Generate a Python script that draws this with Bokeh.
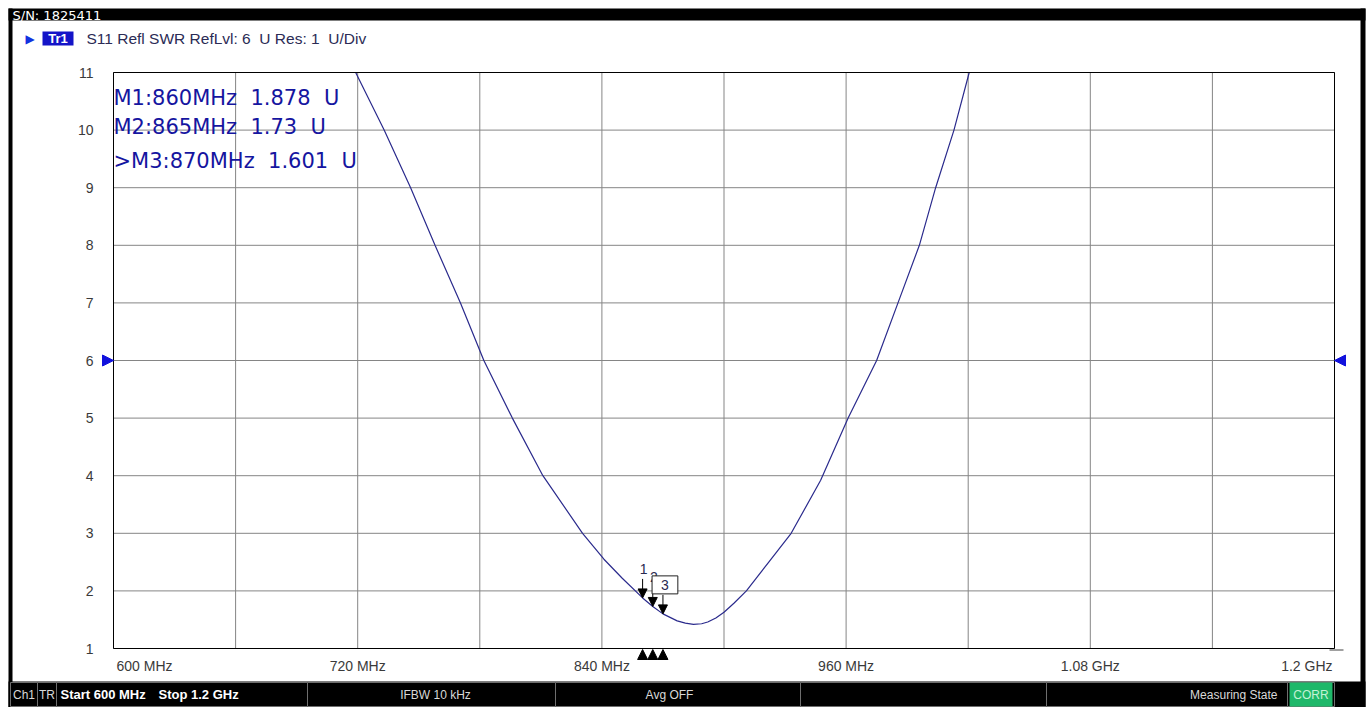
from bokeh.plotting import figure
from bokeh.models import (Range1d, Label, LabelSet, ColumnDataSource,
                          Arrow, NormalHead, BoxAnnotation)
from bokeh.core.properties import value
from bokeh.embed import file_html
from bokeh.resources import INLINE

# ---------------- data ----------------
serial_text = "S/N: 1825411"
trace_name = "Tr1"
trace_info = "S11 Refl SWR RefLvl: 6\u00a0\u00a0U Res: 1\u00a0\u00a0U/Div"
ref_level = 6

freq_mhz = [719, 733, 746, 758, 770.5, 782, 796, 811, 830.5, 841, 850, 860, 865, 870,
            877, 881, 885, 889, 892, 896, 900, 905, 911, 922, 933, 947.5, 961, 975,
            985.5, 996, 1004, 1013, 1020.5]
swr = [11, 10, 9, 8, 7, 6, 5, 4, 3, 2.55, 2.22, 1.878, 1.73, 1.601,
       1.48, 1.44, 1.42, 1.43, 1.46, 1.53, 1.63, 1.79, 2.0, 2.5, 3.0, 3.92, 5, 6,
       7, 8, 9, 10, 11]

marker_ids = [1, 2, 3]
marker_freq_mhz = [860, 865, 870]
marker_swr = [1.878, 1.73, 1.601]
marker_value_text = ["1.878", "1.73", "1.601"]
active_marker = 3

x_start_mhz, x_stop_mhz, x_div_mhz = 600, 1200, 60
y_min, y_max = 1, 11
x_tick_values = [600, 720, 840, 960, 1080, 1200]
x_tick_labels = ["600 MHz", "720 MHz", "840 MHz", "960 MHz", "1.08 GHz", "1.2 GHz"]
y_tick_values = [1, 2, 3, 4, 5, 6, 7, 8, 9, 10, 11]
y_tick_labels = ["1", "2", "3", "4", "5", "6", "7", "8", "9", "10", "11"]

status_texts = ["Ch1", "TR", "Start 600 MHz", "Stop 1.2 GHz", "IFBW 10 kHz",
                "Avg OFF", "Measuring State", "CORR"]

# ---------------- layout (pixels) ----------------
W, H = 1369, 707
PL, PR, PT, PB = 113, 1334, 72, 648          # plot area inside the canvas
px_x = (PR - PL) / (x_stop_mhz - x_start_mhz)
px_y = (PB - PT) / (y_max - y_min)

x_range = Range1d(x_start_mhz - PL / px_x, x_start_mhz + (W - PL) / px_x)
y_range = Range1d(y_max - (H - PT) / px_y, y_max + PT / px_y)

p = figure(width=W, height=H, x_range=x_range, y_range=y_range,
           output_backend="svg", toolbar_location=None,
           x_axis_location=None, y_axis_location=None, min_border=0)
p.background_fill_color = "white"
p.border_fill_color = "white"
p.outline_line_color = None
p.grid.visible = False

TXT = "#3a3a3a"

# grid lines (every division)
grid_x = list(range(x_start_mhz, x_stop_mhz + 1, x_div_mhz))
p.segment(x0=grid_x, y0=[y_min] * len(grid_x), x1=grid_x, y1=[y_max] * len(grid_x),
          line_color="#858585", line_width=1)
p.segment(x0=[x_start_mhz] * len(y_tick_values), y0=y_tick_values,
          x1=[x_stop_mhz] * len(y_tick_values), y1=y_tick_values,
          line_color="#858585", line_width=1)

# plot area outline
p.add_layout(BoxAnnotation(left=x_start_mhz, right=x_stop_mhz, bottom=y_min, top=y_max,
                           fill_alpha=0, line_color="black", line_alpha=1, line_width=1))

# y tick labels
p.text(x=[x_start_mhz] * len(y_tick_values), y=y_tick_values, text=y_tick_labels,
       x_offset=-20, text_align="right", text_baseline="middle",
       text_font=value("Liberation Sans"), text_font_size="14px", text_color=TXT)
# x tick labels: first left aligned, last right aligned, others centred
p.text(x=x_tick_values[:1], y=[y_min], text=x_tick_labels[:1], x_offset=3, y_offset=9,
       text_align="left", text_baseline="top",
       text_font=value("Liberation Sans"), text_font_size="14px", text_color=TXT)
p.text(x=x_tick_values[1:-1], y=[y_min] * (len(x_tick_values) - 2), text=x_tick_labels[1:-1],
       y_offset=9, text_align="center", text_baseline="top",
       text_font=value("Liberation Sans"), text_font_size="14px", text_color=TXT)
p.text(x=x_tick_values[-1:], y=[y_min], text=x_tick_labels[-1:], x_offset=-2, y_offset=9,
       text_align="right", text_baseline="top",
       text_font=value("Liberation Sans"), text_font_size="14px", text_color=TXT)

# trace
p.line(freq_mhz, swr, line_color="#2a2a8c", line_width=1.2)

# marker arrows on the trace
stem = 19 / px_y
msrc = ColumnDataSource(dict(x=marker_freq_mhz, y=marker_swr,
                             ys=[v + stem for v in marker_swr]))
p.add_layout(Arrow(x_start="x", y_start="ys", x_end="x", y_end="y", source=msrc,
                   line_color="black", line_width=1,
                   end=NormalHead(size=9, fill_color="black", line_color="black")))

# marker numbers
inactive = [i for i, m in enumerate(marker_ids) if m != active_marker]
lsrc = ColumnDataSource(dict(x=[marker_freq_mhz[i] for i in inactive],
                             y=[marker_swr[i] for i in inactive],
                             t=[str(marker_ids[i]) for i in inactive]))
p.add_layout(LabelSet(x="x", y="y", text="t", source=lsrc, x_offset=1, y_offset=29,
                      text_align="center", text_baseline="middle",
                      text_font=value("Liberation Sans"), text_font_size="14px",
                      text_color="#2a2a50"))
ai = marker_ids.index(active_marker)
p.add_layout(Label(x=marker_freq_mhz[ai], y=marker_swr[ai], text=str(active_marker),
                   x_offset=2, y_offset=29, text_align="center", text_baseline="middle",
                   text_font="Liberation Sans", text_font_size="14px", text_color="#2a2a50",
                   border_line_color="#202020", border_line_width=1,
                   background_fill_color="white", background_fill_alpha=1.0,
                   padding=dict(x=9, y=4)))

# marker positions on the x axis
bsrc = ColumnDataSource(dict(x=marker_freq_mhz,
                             y0=[y_min - 11 / px_y] * len(marker_freq_mhz),
                             y1=[y_min - 1 / px_y] * len(marker_freq_mhz)))
p.add_layout(Arrow(x_start="x", y_start="y0", x_end="x", y_end="y1", source=bsrc,
                   line_color=None,
                   end=NormalHead(size=10, fill_color="black", line_color="black")))

# reference level pointers
p.add_layout(Arrow(x_start=x_start_mhz - 12 / px_x, y_start=ref_level, x_end=x_start_mhz,
                   y_end=ref_level, line_color=None,
                   end=NormalHead(size=11, fill_color="#1111dd", line_color="#1111dd")))
p.add_layout(Arrow(x_start=x_stop_mhz + 13 / px_x, y_start=ref_level, x_end=x_stop_mhz,
                   y_end=ref_level, line_color=None,
                   end=NormalHead(size=11, fill_color="#1111dd", line_color="#1111dd")))

# marker readout
readout_baselines = [97, 126, 160]
for i, (m, f, vt) in enumerate(zip(marker_ids, marker_freq_mhz, marker_value_text)):
    prefix = ">" if m == active_marker else ""
    txt = f"{prefix}M{m}:{f}MHz\u00a0\u00a0{vt}\u00a0\u00a0U"
    p.add_layout(Label(x=PL, y=readout_baselines[i], x_units="canvas", y_units="canvas",
                       text=txt, text_align="left", text_baseline="alphabetic",
                       text_font="DejaVu Sans", text_font_size="21px", text_color="#1515a0"))


# ---------------- instrument frame decorations (canvas units) ----------------
def cbox(left, right, top, bottom, fill, line=None, lw=1):
    p.add_layout(BoxAnnotation(left=left, right=right, top=top, bottom=bottom,
                               left_units="canvas", right_units="canvas",
                               top_units="canvas", bottom_units="canvas",
                               fill_color=fill, fill_alpha=1.0,
                               line_color=line if line else "black",
                               line_alpha=1.0 if line else 0.0, line_width=lw,
                               level="overlay"))


def clabel(x, y, text, size, color, align="left", baseline="middle", font="Liberation Sans",
           style="normal"):
    p.add_layout(Label(x=x, y=y, x_units="canvas", y_units="canvas", text=text,
                       text_font=font, text_font_size=f"{size}px", text_color=color,
                       text_align=align, text_baseline=baseline, text_font_style=style,
                       level="overlay"))


# top band, side bars
cbox(8, 1365, 8, 20, "black")
cbox(8, 12, 8, H, "black")
cbox(1360, 1365, 8, H, "black")
clabel(12, 14.5, serial_text, 13, "white", font="DejaVu Sans")

# trace header
clabel(25, 38, "\u25b6", 12, "#1133e0", font="DejaVu Sans")
cbox(42, 73, 31, 45, "#1414c8")
clabel(57.5, 38, trace_name, 13, "white", align="center", style="bold")
clabel(86, 38, trace_info, 15.5, "#2b2b55")

# small corner tick below the plot area
cbox(1329, 1343, 649, 650, "#404040")

# status bar
SB_T, SB_B = 681, H
cbox(8, 1365, SB_T, SB_B, "black")
cell_edges = [10, 37, 56, 307, 555, 800, 1046, 1287, 1334]
for l, r in zip(cell_edges[:-1], cell_edges[1:]):
    cbox(l, r, SB_T + 1, SB_B - 1, "black", "#6e6e6e")
cbox(1289, 1332, SB_T + 1, SB_B - 1, "#1fb86a")
sb_mid = (SB_T + SB_B) / 2
status_layout = [(23.5, "center", "normal", 12), (46.5, "center", "normal", 12),
                 (60, "left", "bold", 13), (158, "left", "bold", 13),
                 (435, "center", "normal", 12), (669, "center", "normal", 12),
                 (1277, "right", "normal", 12), (1310.5, "center", "normal", 12)]
status_colors = ["#d8d8d8", "#d8d8d8", "white", "white", "#d8d8d8", "#d8d8d8", "#d8d8d8", "#c4f2d6"]
for t, (x, al, st, sz), c in zip(status_texts, status_layout, status_colors):
    clabel(x, sb_mid, t, sz, c, align=al, style=st)

open("out.html", "w").write(file_html(p, INLINE))
